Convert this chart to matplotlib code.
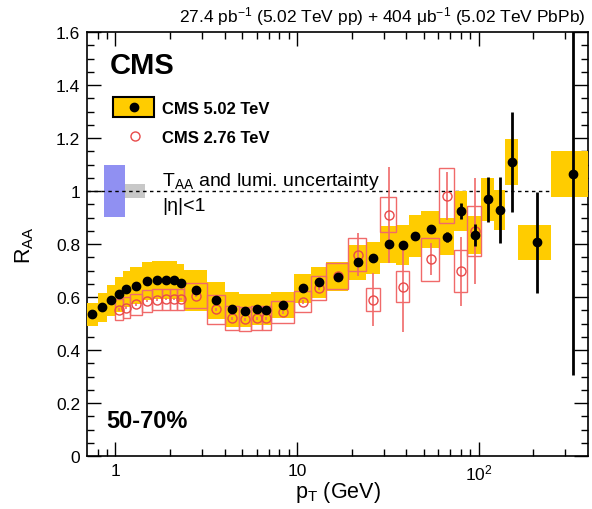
import numpy as np
import matplotlib
matplotlib.use('Agg')
import matplotlib.pyplot as plt
from matplotlib.patches import Rectangle
from matplotlib.lines import Line2D
from matplotlib.ticker import FixedLocator, MultipleLocator, FuncFormatter

plt.rcParams['font.family'] = ['Liberation Sans', 'DejaVu Sans']
plt.rcParams['mathtext.fontset'] = 'custom'
plt.rcParams['mathtext.rm'] = 'Liberation Sans'
plt.rcParams['mathtext.it'] = 'Liberation Sans:italic'
plt.rcParams['mathtext.bf'] = 'Liberation Sans:bold'
plt.rcParams['mathtext.default'] = 'regular'

# CMS 5.02 TeV, 50-70%
pt_lo = [0.7, 0.8, 0.9, 1.0, 1.1, 1.2, 1.4, 1.6, 1.8, 2.0, 2.2, 2.4, 3.2, 4.0, 4.8, 5.6, 6.4, 7.2,
         9.6, 12.0, 14.4, 19.2, 24.0, 28.8, 35.2, 41.6, 48.0, 60.8, 73.6, 86.4, 103.6, 120.8, 140.0, 165.0, 250.0]
pt_hi = [0.8, 0.9, 1.0, 1.1, 1.2, 1.4, 1.6, 1.8, 2.0, 2.2, 2.4, 3.2, 4.0, 4.8, 5.6, 6.4, 7.2, 9.6,
         12.0, 14.4, 19.2, 24.0, 28.8, 35.2, 41.6, 48.0, 60.8, 73.6, 86.4, 103.6, 120.8, 140.0, 165.0, 250.0, 400.0]
pt = [0.75, 0.85, 0.95, 1.05, 1.15, 1.3, 1.5, 1.7, 1.9, 2.1, 2.3, 2.8, 3.6, 4.4, 5.2, 6.0, 6.8, 8.4,
      10.8, 13.2, 16.8, 21.6, 26.4, 32.0, 38.4, 44.8, 54.4, 67.2, 80.0, 95.0, 112.2, 130.4, 152.5, 210.0, 330.0]
raa = [0.534, 0.561, 0.587, 0.610, 0.630, 0.642, 0.659, 0.664, 0.664, 0.663, 0.652, 0.625, 0.587, 0.553,
       0.549, 0.553, 0.552, 0.569, 0.633, 0.655, 0.677, 0.731, 0.746, 0.799, 0.795, 0.831, 0.856, 0.827,
       0.925, 0.834, 0.968, 0.929, 1.109, 0.806, 1.064]
raa_stat = [0.005, 0.005, 0.005, 0.005, 0.005, 0.005, 0.005, 0.005, 0.005, 0.005, 0.005, 0.005, 0.005,
            0.005, 0.005, 0.005, 0.005, 0.005, 0.006, 0.006, 0.007, 0.01, 0.01, 0.012, 0.012, 0.015,
            0.015, 0.02, 0.03, 0.04, 0.085, 0.125, 0.19, 0.19, 0.76]
raa_syst = [0.045, 0.055, 0.06, 0.065, 0.068, 0.07, 0.072, 0.072, 0.072, 0.072, 0.072, 0.077, 0.07,
            0.065, 0.062, 0.06, 0.058, 0.05, 0.055, 0.058, 0.055, 0.065, 0.06, 0.07, 0.075, 0.08, 0.07,
            0.07, 0.075, 0.07, 0.08, 0.076, 0.088, 0.066, 0.087]

# CMS 2.76 TeV
pt276_lo = [1.0, 1.1, 1.2, 1.4, 1.6, 1.8, 2.0, 2.2, 2.4, 3.2, 4.0, 4.8, 5.6, 6.4, 7.2, 9.6, 12.0, 14.4,
            19.2, 24.0, 28.8, 35.2, 48.0, 60.8, 73.6, 86.4]
pt276_hi = [1.1, 1.2, 1.4, 1.6, 1.8, 2.0, 2.2, 2.4, 3.2, 4.0, 4.8, 5.6, 6.4, 7.2, 9.6, 12.0, 14.4, 19.2,
            24.0, 28.8, 35.2, 41.6, 60.8, 73.6, 86.4, 103.6]
pt276 = [1.05, 1.15, 1.3, 1.5, 1.7, 1.9, 2.1, 2.3, 2.8, 3.6, 4.4, 5.2, 6.0, 6.8, 8.4, 10.8, 13.2, 16.8,
         21.6, 26.4, 32.0, 38.4, 54.4, 67.2, 80.0, 95.0]
raa276 = [0.552, 0.56, 0.572, 0.585, 0.59, 0.592, 0.592, 0.592, 0.605, 0.553, 0.52, 0.516, 0.52, 0.52,
          0.543, 0.582, 0.633, 0.68, 0.76, 0.59, 0.91, 0.639, 0.742, 0.982, 0.697, 0.85]
raa276_stat = [0.005, 0.005, 0.005, 0.005, 0.005, 0.005, 0.005, 0.005, 0.005, 0.005, 0.005, 0.005,
               0.005, 0.005, 0.006, 0.007, 0.008, 0.01, 0.08, 0.1, 0.18, 0.17, 0.06, 0.09, 0.13, 0.2]
raa276_syst = [0.04, 0.04, 0.04, 0.04, 0.04, 0.04, 0.04, 0.04, 0.048, 0.055, 0.045, 0.045, 0.045, 0.045,
               0.042, 0.04, 0.045, 0.05, 0.063, 0.044, 0.066, 0.058, 0.08, 0.104, 0.08, 0.095]

taa_unc = 0.098   # T_AA and lumi. uncertainty
pp_unc = 0.025    # grey box

yellow = '#ffcc00'
red = '#e84a4a'
red_box = '#f06a6a'

fig = plt.figure(figsize=(5.92, 5.10), dpi=100)
ax = fig.add_axes([87 / 592, 53 / 510, 501 / 592, 424 / 510])
ax.set_xscale('log')

# normalisation boxes around unity
ax.bar([0.87], [2 * taa_unc], width=[0.26], bottom=[1 - taa_unc], align='edge',
       color='#9090f2', lw=0, zorder=1)
ax.bar([1.13], [2 * pp_unc], width=[0.33], bottom=[1 - pp_unc], align='edge',
       color='#c8c8c8', lw=0, zorder=1)
ax.axhline(1, color='k', lw=1, ls=(0, (2.5, 2.5)), zorder=2)

lo = np.array(pt_lo); hi = np.array(pt_hi)
y = np.array(raa); sy = np.array(raa_syst)
ax.bar(lo, 2 * sy, width=hi - lo, bottom=y - sy, align='edge', color=yellow, lw=0, zorder=3)

lo2 = np.array(pt276_lo); hi2 = np.array(pt276_hi)
y2 = np.array(raa276); sy2 = np.array(raa276_syst)
ax.bar(lo2, 2 * sy2, width=hi2 - lo2, bottom=y2 - sy2, align='edge', fill=False,
       edgecolor=red_box, lw=1, zorder=4)
ax.errorbar(pt276, raa276, yerr=raa276_stat, fmt='none', ecolor=red_box, elinewidth=1.2,
            capsize=0, zorder=5)
ax.plot(pt276, raa276, 'o', mfc='none', mec=red, ms=6.5, mew=1, zorder=6)

ax.errorbar(pt, raa, yerr=raa_stat, fmt='o', color='k', ms=6, elinewidth=2, capsize=0, zorder=7)

ax.set_xlim(0.7, 400)
ax.set_ylim(0, 1.6)

ax.xaxis.set_major_locator(FixedLocator([1, 10, 100]))
ax.xaxis.set_minor_locator(FixedLocator([0.8, 0.9, 2, 3, 4, 5, 6, 7, 8, 9,
                                         20, 30, 40, 50, 60, 70, 80, 90, 200, 300]))
ax.xaxis.set_major_formatter(FuncFormatter(lambda v, p: {1: '1', 10: '10', 100: '10$^{2}$'}.get(round(v), '')))
ax.xaxis.set_minor_formatter(FuncFormatter(lambda v, p: ''))
ax.yaxis.set_major_locator(MultipleLocator(0.2))
ax.yaxis.set_minor_locator(MultipleLocator(0.05))
ax.yaxis.set_major_formatter(FuncFormatter(lambda v, p: '%g' % round(v, 2)))

ax.tick_params(which='both', direction='in', top=True, right=True, width=1)
ax.tick_params(which='major', length=10, labelsize=12.5, pad=5)
ax.tick_params(which='minor', length=5)
for s in ax.spines.values():
    s.set_linewidth(1.2)

ax.set_xlabel('p$_{T}$ (GeV)', fontsize=15.5, labelpad=-3)
ax.set_ylabel('R$_{AA}$', fontsize=15.5, labelpad=14)

# labels and legend
ax.text(0.995, 1.024, '27.4 pb$^{-1}$ (5.02 TeV pp) + 404 \u03bcb$^{-1}$ (5.02 TeV PbPb)',
        transform=ax.transAxes, ha='right', va='baseline', fontsize=12.5)
ax.text(0.046, 0.903, 'CMS', transform=ax.transAxes, fontsize=21, fontweight='bold', va='baseline')
ax.text(0.038, 0.068, '50-70%', transform=ax.transAxes, fontsize=17, fontweight='bold', va='baseline')

ax.add_patch(Rectangle((0.052, 0.799), 0.082, 0.047, transform=ax.transAxes,
                       facecolor=yellow, edgecolor='k', lw=1.5, zorder=8))
ax.add_line(Line2D([0.093], [0.8225], transform=ax.transAxes, marker='o', color='k', ms=6, zorder=9))
ax.text(0.15, 0.8085, 'CMS 5.02 TeV', transform=ax.transAxes, fontsize=12, fontweight='bold', va='baseline')
ax.add_line(Line2D([0.096], [0.754], transform=ax.transAxes, marker='o', mfc='none', mec=red,
                   ms=6.5, mew=1, zorder=9))
ax.text(0.15, 0.74, 'CMS 2.76 TeV', transform=ax.transAxes, fontsize=12, fontweight='bold', va='baseline')
ax.text(0.15, 0.639, 'T$_{AA}$ and lumi. uncertainty', transform=ax.transAxes, fontsize=14, va='baseline')
ax.text(0.15, 0.58, '|\u03b7|<1', transform=ax.transAxes, fontsize=14, va='baseline')

fig.savefig('out.png', dpi=100)
